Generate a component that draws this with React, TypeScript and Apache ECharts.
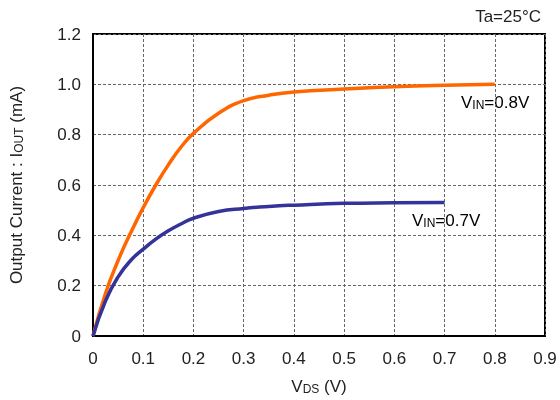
import React, { useEffect, useRef } from "react";
import * as echarts from "echarts";

const vds08 = [0, 0.025, 0.05, 0.075, 0.1, 0.125, 0.15, 0.175, 0.2, 0.25, 0.3, 0.35, 0.4, 0.5, 0.6, 0.7, 0.8];
const iout08 = [0, 0.17, 0.3, 0.41, 0.51, 0.6, 0.68, 0.75, 0.805, 0.885, 0.935, 0.957, 0.97, 0.981, 0.99, 0.996, 1.0];
const vds07 = [0, 0.025, 0.05, 0.075, 0.1, 0.125, 0.15, 0.175, 0.2, 0.25, 0.3, 0.35, 0.4, 0.5, 0.6, 0.7];
const iout07 = [0, 0.14, 0.235, 0.3, 0.345, 0.385, 0.418, 0.445, 0.468, 0.495, 0.507, 0.515, 0.52, 0.527, 0.529, 0.53];

const FONT = "Liberation Sans, Arial, sans-serif";
const fmt = (v: number) => (Math.abs(v) < 1e-9 ? "0" : v.toFixed(1));

export default function App() {
  const ref = useRef<HTMLDivElement>(null);
  useEffect(() => {
    if (!ref.current) return;
    const chart = echarts.init(ref.current, null, { renderer: "svg" });
    const big = { fontSize: 17, fontFamily: FONT, color: "#222", verticalAlign: "bottom" as const, lineHeight: 18 };
    const small = { fontSize: 12, fontFamily: FONT, color: "#222", verticalAlign: "bottom" as const, lineHeight: 16 };
    chart.setOption({
      animation: false,
      grid: { left: 92, right: 15, top: 34, bottom: 64, show: true, borderColor: "#000", borderWidth: 2, backgroundColor: "transparent" },
      xAxis: {
        type: "value",
        min: 0,
        max: 0.9,
        interval: 0.1,
        axisLine: { show: true, onZero: false, lineStyle: { color: "#000", width: 2 } },
        axisTick: { show: false },
        axisLabel: { formatter: fmt, fontSize: 17, fontFamily: FONT, color: "#222", margin: 14 },
        splitLine: { show: true, lineStyle: { color: "#666", width: 1, type: [3, 2] } },
        name: "{b|V}{s|DS}{b| (V)}",
        nameLocation: "middle",
        nameGap: 41,
        nameTextStyle: { rich: { b: big, s: small } },
      },
      yAxis: {
        type: "value",
        min: 0,
        max: 1.2,
        interval: 0.2,
        axisLine: { show: true, onZero: false, lineStyle: { color: "#000", width: 2 } },
        axisTick: { show: false },
        axisLabel: { formatter: fmt, fontSize: 17, fontFamily: FONT, color: "#222", margin: 12 },
        splitLine: { show: true, lineStyle: { color: "#666", width: 1, type: [3, 2] } },
        name: "{b|Output Current : I}{s|OUT}{b| (mA)}",
        nameLocation: "middle",
        nameGap: 68,
        nameTextStyle: { rich: { b: big, s: small } },
      },
      series: [
        {
          type: "line",
          data: vds08.map((x, i) => [x, iout08[i]]),
          smooth: 0.5,
          showSymbol: false,
          lineStyle: { color: "#FF6600", width: 3.5 },
          z: 3,
        },
        {
          type: "line",
          data: vds07.map((x, i) => [x, iout07[i]]),
          smooth: 0.5,
          showSymbol: false,
          lineStyle: { color: "#333399", width: 3.5 },
          z: 4,
        },
      ],
      graphic: [
        {
          type: "text",
          right: 19,
          top: 8,
          style: { text: "Ta=25°C", fontSize: 17, fontFamily: FONT, fill: "#222" },
        },
        {
          type: "text",
          left: 461,
          top: 94,
          style: { text: "{b|V}{s|IN}{b|=0.8V}", rich: { b: big, s: small } },
        },
        {
          type: "text",
          left: 412,
          top: 212,
          style: { text: "{b|V}{s|IN}{b|=0.7V}", rich: { b: big, s: small } },
        },
      ],
    });
    return () => chart.dispose();
  }, []);
  return <div ref={ref} style={{ width: 560, height: 400, position: "fixed", left: 0, top: 0 }} />;
}
